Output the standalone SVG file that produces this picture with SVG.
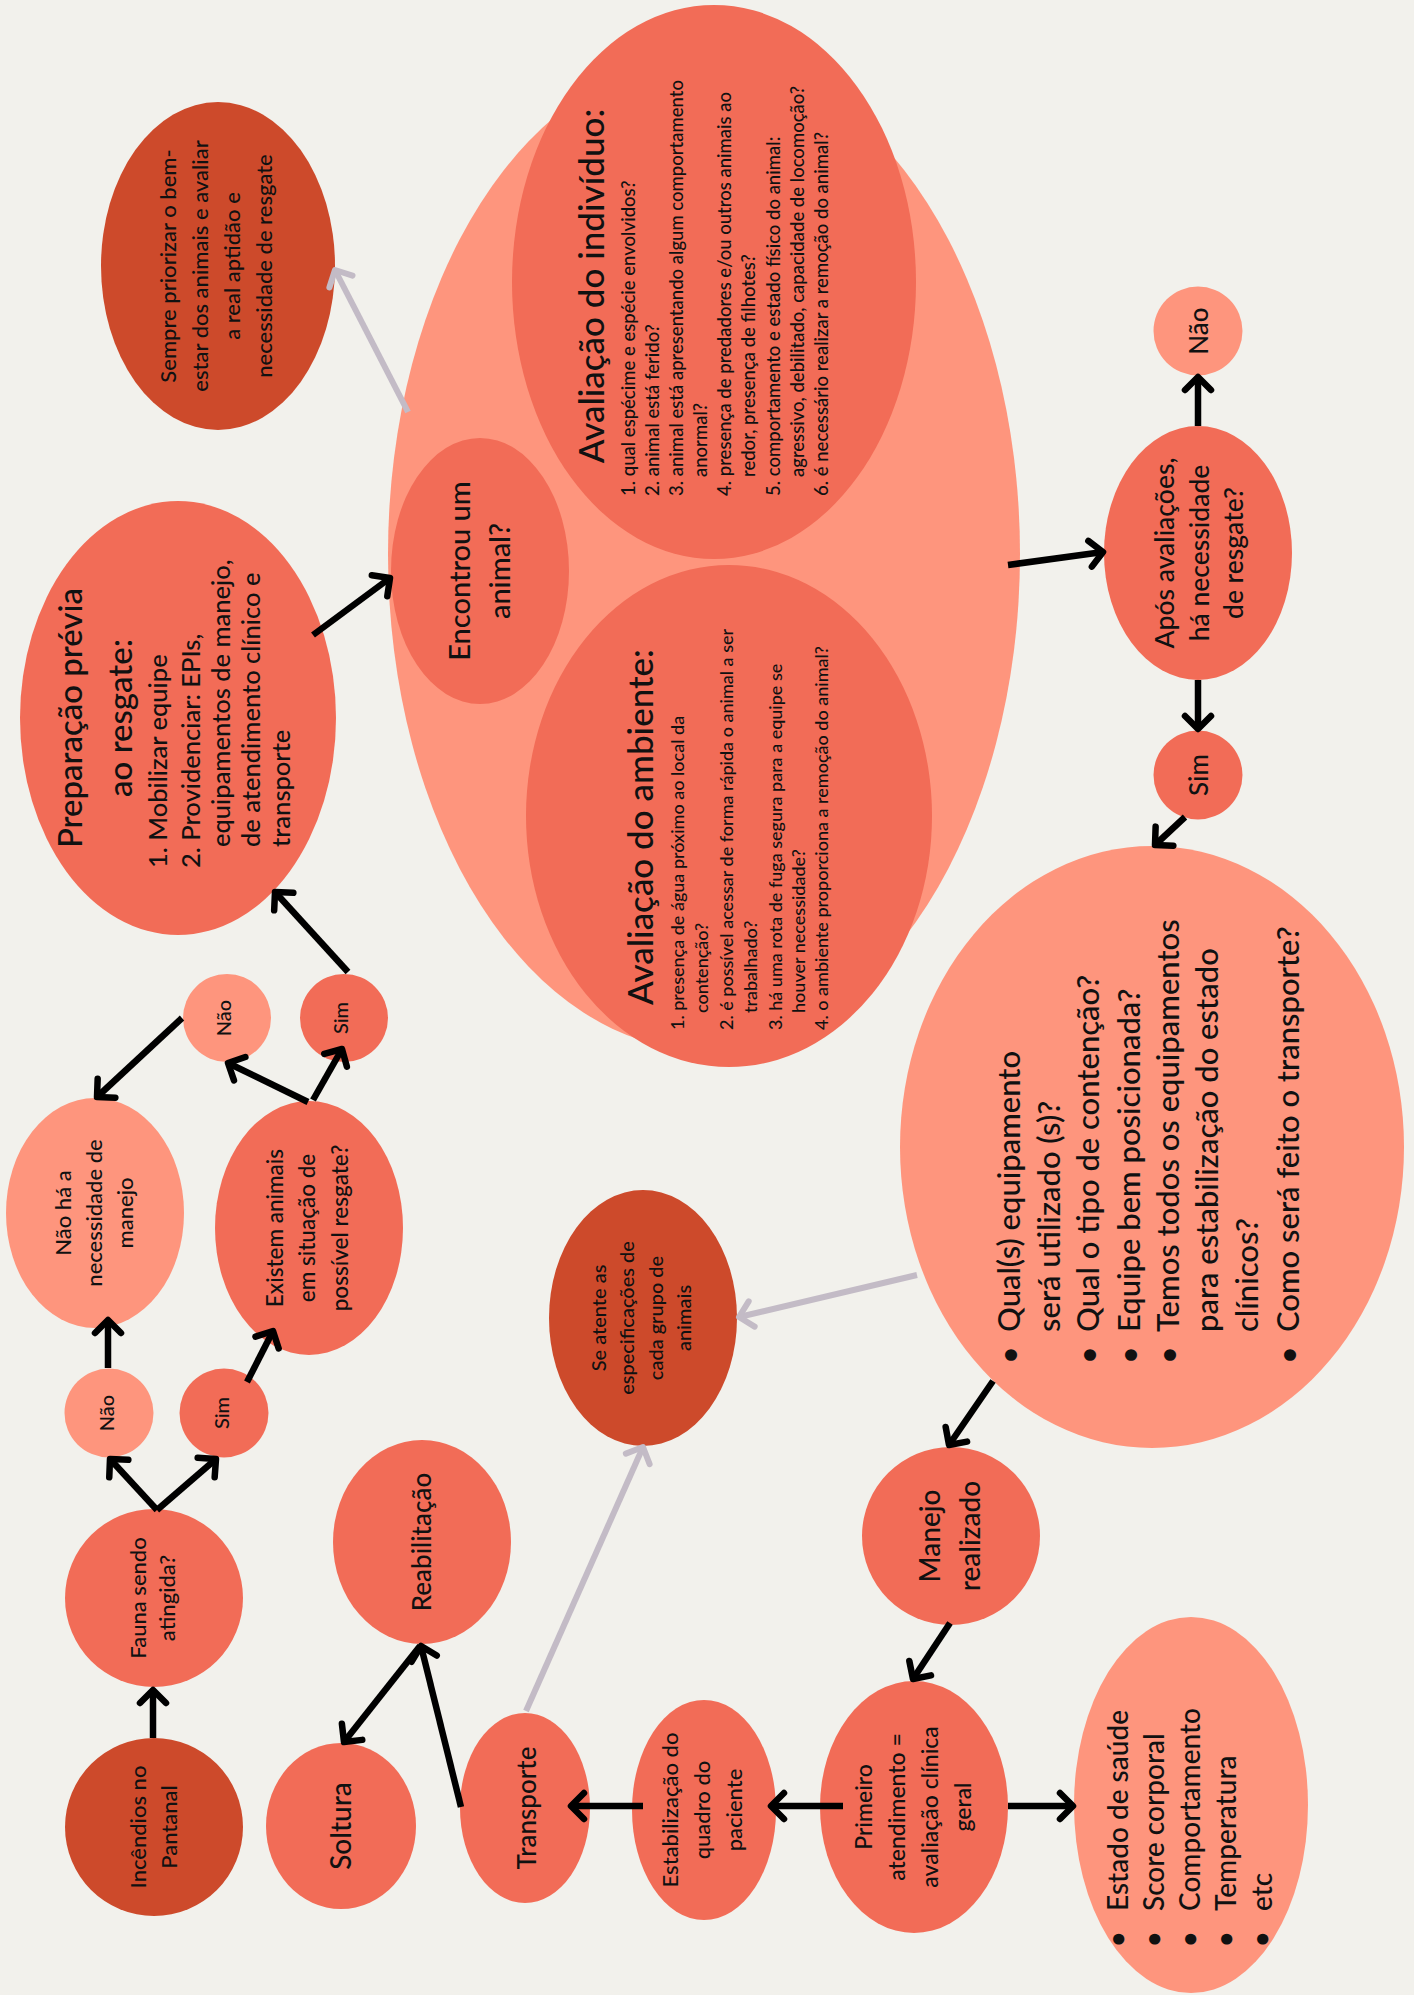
<svg xmlns="http://www.w3.org/2000/svg" width="1414" height="1995" viewBox="0 0 1414 1995">
<style>
.dark{fill:#cd4a2b}
.mid{fill:#f26c57}
.light{fill:#fe957d}
text{font-family:Lato,"Liberation Sans",sans-serif;fill:#111;font-weight:500}
.c{text-anchor:middle}
.s{text-anchor:start}
.ln{stroke:#000;stroke-width:6.5;fill:none;stroke-linecap:butt}
.gl{stroke:#c3bbc6;stroke-width:6;fill:none}
</style>
<defs>
<marker id="ah" markerUnits="userSpaceOnUse" viewBox="-20 -20 40 40" markerWidth="40" markerHeight="40" refX="0" refY="0" orient="auto" overflow="visible">
<path d="M-13,-13 L0,0 L-13,13" fill="none" stroke="#000" stroke-width="6.5" stroke-linecap="round" stroke-linejoin="round"/>
</marker>
<marker id="ahg" markerUnits="userSpaceOnUse" viewBox="-20 -20 40 40" markerWidth="40" markerHeight="40" refX="0" refY="0" orient="auto" overflow="visible">
<path d="M-13,-13 L0,0 L-13,13" fill="none" stroke="#c3bbc6" stroke-width="6" stroke-linecap="round" stroke-linejoin="round"/>
</marker>
</defs>
<rect x="0" y="0" width="1414" height="1995" fill="#f2f1ec"/>

<g id="avaliacoes">
<ellipse class="light" cx="704" cy="554" rx="316" ry="496"/>
</g>
<g id="individuo">
<ellipse class="mid" cx="714" cy="282" rx="202" ry="277"/>
<text transform="translate(714,282) rotate(-90)" font-size="35"><tspan class="c" x="-4" y="-110">Avaliação do indivíduo:</tspan></text>
<text transform="translate(714,282) rotate(-90)" font-size="18.5" class="s">
<tspan x="-214" y="-79">1. qual espécime e espécie envolvidos?</tspan>
<tspan x="-214" y="-55">2. animal está ferido?</tspan>
<tspan x="-214" y="-31">3. animal está apresentando algum comportamento</tspan>
<tspan x="-195" y="-7">anormal?</tspan>
<tspan x="-214" y="17">4. presença de predadores e/ou outros animais ao</tspan>
<tspan x="-195" y="41">redor, presença de filhotes?</tspan>
<tspan x="-214" y="66">5. comportamento e estado físico do animal:</tspan>
<tspan x="-195" y="90">agressivo, debilitado, capacidade de locomoção?</tspan>
<tspan x="-214" y="114">6. é necessário realizar a remoção do animal?</tspan>
</text>
</g>
<g id="ambiente">
<ellipse class="mid" cx="729" cy="816" rx="203" ry="251"/>
<text transform="translate(729,816) rotate(-90)" font-size="35"><tspan class="c" x="-11" y="-76">Avaliação do ambiente:</tspan></text>
<text transform="translate(729,816) rotate(-90)" font-size="18" class="s">
<tspan x="-214" y="-45">1. presença de água próximo ao local da</tspan>
<tspan x="-197" y="-21">contenção?</tspan>
<tspan x="-214" y="4">2. é possível acessar de forma rápida o animal a ser</tspan>
<tspan x="-197" y="28">trabalhado?</tspan>
<tspan x="-214" y="53">3. há uma rota de fuga segura para a equipe se</tspan>
<tspan x="-197" y="76">houver necessidade?</tspan>
<tspan x="-214" y="99">4. o ambiente proporciona a remoção do animal?</tspan>
</text>
</g>
<g id="encontrou">
<ellipse class="mid" cx="480" cy="571" rx="89" ry="133"/>
<text transform="translate(480,571) rotate(-90)" font-size="29" class="c"><tspan x="0" y="-10">Encontrou um</tspan><tspan x="0" y="30">animal?</tspan></text>
</g>
<g id="sempre">
<ellipse class="dark" cx="218" cy="266" rx="117" ry="164"/>
<text transform="translate(218,266) rotate(-90)" font-size="22" class="c"><tspan x="0" y="-42">Sempre priorizar o bem-</tspan><tspan x="0" y="-10">estar dos animais e avaliar</tspan><tspan x="0" y="22">a real aptidão e</tspan><tspan x="0" y="54">necessidade de resgate</tspan></text>
</g>
<g id="preparacao">
<ellipse class="mid" cx="178" cy="718" rx="158" ry="217"/>
<text transform="translate(178,718) rotate(-90)" font-size="33" class="c"><tspan x="0" y="-96">Preparação prévia</tspan><tspan x="0" y="-46">ao resgate:</tspan></text>
<text transform="translate(178,718) rotate(-90)" font-size="25.5" class="s"><tspan x="-150" y="-11">1. Mobilizar equipe</tspan><tspan x="-150" y="22">2. Providenciar: EPIs,</tspan><tspan x="-129" y="52">equipamentos de manejo,</tspan><tspan x="-129" y="82">de atendimento clínico e</tspan><tspan x="-129" y="112">transporte</tspan></text>
</g>
<g id="apos">
<ellipse class="mid" cx="1198" cy="553" rx="94" ry="127"/>
<text transform="translate(1198,553) rotate(-90)" font-size="26.5" class="c"><tspan x="0" y="-24">Após avaliações,</tspan><tspan x="0" y="11">há necessidade</tspan><tspan x="0" y="45">de resgate?</tspan></text>
</g>
<g id="nao-resgate">
<circle class="light" cx="1198" cy="331" r="44.5"/>
<text transform="translate(1198,331) rotate(-90)" font-size="26" class="c" x="0" y="10">Não</text>
</g>
<g id="sim-resgate">
<circle class="mid" cx="1198" cy="775" r="44.5"/>
<text transform="translate(1198,775) rotate(-90)" font-size="26" class="c" x="0" y="10">Sim</text>
</g>
<g id="perguntas">
<ellipse class="light" cx="1152" cy="1147" rx="252" ry="301"/>
<text transform="translate(1152,1147) rotate(-90)" font-size="31" class="s"><tspan x="-185" y="-132">Qual(s) equipamento</tspan><tspan x="-185" y="-92">será utilizado (s)?</tspan><tspan x="-185" y="-53">Qual o tipo de contenção?</tspan><tspan x="-185" y="-12">Equipe bem posicionada?</tspan><tspan x="-185" y="27">Temos todos os equipamentos</tspan><tspan x="-185" y="66">para estabilização do estado</tspan><tspan x="-185" y="106">clínicos?</tspan><tspan x="-185" y="147">Como será feito o transporte?</tspan></text>
<text transform="translate(1152,1147) rotate(-90)" font-size="30" class="c"><tspan x="-208" y="-132">•</tspan><tspan x="-208" y="-53">•</tspan><tspan x="-208" y="-12">•</tspan><tspan x="-208" y="27">•</tspan><tspan x="-208" y="147">•</tspan></text>
</g>
<g id="se-atente">
<ellipse class="dark" cx="643" cy="1318" rx="94" ry="128"/>
<text transform="translate(643,1318) rotate(-90)" font-size="20" class="c"><tspan x="0" y="-37">Se atente as</tspan><tspan x="0" y="-9">especificações de</tspan><tspan x="0" y="20">cada grupo de</tspan><tspan x="0" y="48">animais</tspan></text>
</g>
<g id="manejo">
<circle class="mid" cx="951" cy="1536" r="89"/>
<text transform="translate(951,1536) rotate(-90)" font-size="28" class="c"><tspan x="0" y="-11">Manejo</tspan><tspan x="0" y="29">realizado</tspan></text>
</g>
<g id="primeiro">
<ellipse class="mid" cx="914" cy="1807" rx="94" ry="126"/>
<text transform="translate(914,1807) rotate(-90)" font-size="23" class="c"><tspan x="0" y="-42">Primeiro</tspan><tspan x="0" y="-9">atendimento =</tspan><tspan x="0" y="24">avaliação clínica</tspan><tspan x="0" y="57">geral</tspan></text>
</g>
<g id="estado">
<ellipse class="light" cx="1191" cy="1805" rx="117" ry="188"/>
<text transform="translate(1191,1805) rotate(-90)" font-size="28" class="s"><tspan x="-106" y="-63">Estado de saúde</tspan><tspan x="-106" y="-27">Score corporal</tspan><tspan x="-106" y="9">Comportamento</tspan><tspan x="-106" y="45">Temperatura</tspan><tspan x="-106" y="81">etc</tspan></text>
<text transform="translate(1191,1805) rotate(-90)" font-size="28" class="c"><tspan x="-134" y="-63">•</tspan><tspan x="-134" y="-27">•</tspan><tspan x="-134" y="9">•</tspan><tspan x="-134" y="45">•</tspan><tspan x="-134" y="81">•</tspan></text>
</g>
<g id="estabilizacao">
<ellipse class="mid" cx="704" cy="1810" rx="72" ry="110"/>
<text transform="translate(704,1810) rotate(-90)" font-size="22" class="c"><tspan x="0" y="-26">Estabilização do</tspan><tspan x="0" y="6">quadro do</tspan><tspan x="0" y="38">paciente</tspan></text>
</g>
<g id="transporte">
<ellipse class="mid" cx="525" cy="1808" rx="65" ry="95"/>
<text transform="translate(525,1808) rotate(-90)" font-size="26" class="c" x="0" y="11">Transporte</text>
</g>
<g id="reabilitacao">
<ellipse class="mid" cx="422" cy="1542" rx="89" ry="102"/>
<text transform="translate(422,1542) rotate(-90)" font-size="26" class="c" x="0" y="9">Reabilitação</text>
</g>
<g id="soltura">
<ellipse class="mid" cx="341" cy="1826" rx="75" ry="83"/>
<text transform="translate(341,1826) rotate(-90)" font-size="28" font-weight="bold" class="c" x="0" y="10">Soltura</text>
</g>
<g id="incendios">
<circle class="dark" cx="154" cy="1827" r="89"/>
<text transform="translate(154,1827) rotate(-90)" font-size="22" class="c"><tspan x="0" y="-8">Incêndios no</tspan><tspan x="0" y="23">Pantanal</tspan></text>
</g>
<g id="fauna">
<circle class="mid" cx="154" cy="1598" r="89"/>
<text transform="translate(154,1598) rotate(-90)" font-size="22" class="c"><tspan x="0" y="-8">Fauna sendo</tspan><tspan x="0" y="21">atingida?</tspan></text>
</g>
<g id="nao-fauna">
<circle class="light" cx="109" cy="1413" r="44.5"/>
<text transform="translate(109,1413) rotate(-90)" font-size="20" class="c" x="0" y="5">Não</text>
</g>
<g id="sim-fauna">
<circle class="mid" cx="224" cy="1413" r="44.5"/>
<text transform="translate(224,1413) rotate(-90)" font-size="20" class="c" x="0" y="5">Sim</text>
</g>
<g id="nao-ha">
<ellipse class="light" cx="95" cy="1213" rx="89" ry="115"/>
<text transform="translate(95,1213) rotate(-90)" font-size="22" class="c"><tspan x="0" y="-24">Não há a</tspan><tspan x="0" y="7">necessidade de</tspan><tspan x="0" y="38">manejo</tspan></text>
</g>
<g id="existem">
<ellipse class="mid" cx="309" cy="1228" rx="94" ry="127"/>
<text transform="translate(309,1228) rotate(-90)" font-size="22.5" class="c"><tspan x="0" y="-26">Existem animais</tspan><tspan x="0" y="6">em situação de</tspan><tspan x="0" y="39">possível resgate?</tspan></text>
</g>
<g id="nao-existem">
<circle class="light" cx="227" cy="1018" r="44"/>
<text transform="translate(227,1018) rotate(-90)" font-size="20" class="c" x="0" y="4">Não</text>
</g>
<g id="sim-existem">
<circle class="mid" cx="344" cy="1018" r="44"/>
<text transform="translate(344,1018) rotate(-90)" font-size="20" class="c" x="0" y="4">Sim</text>
</g>

<g id="connectors">
<line class="ln" x1="153" y1="1738" x2="153" y2="1690" marker-end="url(#ah)"/>
<line class="ln" x1="157" y1="1510" x2="110" y2="1459" marker-end="url(#ah)"/>
<line class="ln" x1="157" y1="1510" x2="216" y2="1459" marker-end="url(#ah)"/>
<line class="ln" x1="108" y1="1368" x2="108" y2="1320" marker-end="url(#ah)"/>
<line class="ln" x1="247" y1="1382" x2="273" y2="1331" marker-end="url(#ah)"/>
<line class="ln" x1="308" y1="1102" x2="228" y2="1063" marker-end="url(#ah)"/>
<line class="ln" x1="313" y1="1100" x2="342" y2="1049" marker-end="url(#ah)"/>
<line class="ln" x1="182" y1="1018" x2="97" y2="1097" marker-end="url(#ah)"/>
<line class="ln" x1="348" y1="972" x2="275" y2="892" marker-end="url(#ah)"/>
<line class="ln" x1="313" y1="635" x2="390" y2="578" marker-end="url(#ah)"/>
<line class="ln" x1="1008" y1="565" x2="1103" y2="552" marker-end="url(#ah)"/>
<line class="ln" x1="1198" y1="426" x2="1198" y2="377" marker-end="url(#ah)"/>
<line class="ln" x1="1198" y1="680" x2="1198" y2="729" marker-end="url(#ah)"/>
<line class="ln" x1="1185" y1="817" x2="1155" y2="845" marker-end="url(#ah)"/>
<line class="ln" x1="993" y1="1381" x2="949" y2="1445" marker-end="url(#ah)"/>
<line class="ln" x1="950" y1="1623" x2="913" y2="1679" marker-end="url(#ah)"/>
<line class="ln" x1="1008" y1="1806" x2="1073" y2="1806" marker-end="url(#ah)"/>
<line class="ln" x1="843" y1="1806" x2="771" y2="1806" marker-end="url(#ah)"/>
<line class="ln" x1="643" y1="1806" x2="571" y2="1806" marker-end="url(#ah)"/>
<line class="ln" x1="461" y1="1807" x2="421" y2="1646" marker-end="url(#ah)"/>
<line class="ln" x1="420" y1="1646" x2="344" y2="1742" marker-end="url(#ah)"/>
<line class="gl" x1="408" y1="412" x2="335" y2="270" marker-end="url(#ahg)"/>
<line class="gl" x1="917" y1="1275" x2="739" y2="1317" marker-end="url(#ahg)"/>
<line class="gl" x1="526" y1="1711" x2="643" y2="1447" marker-end="url(#ahg)"/>
</g>
</svg>
